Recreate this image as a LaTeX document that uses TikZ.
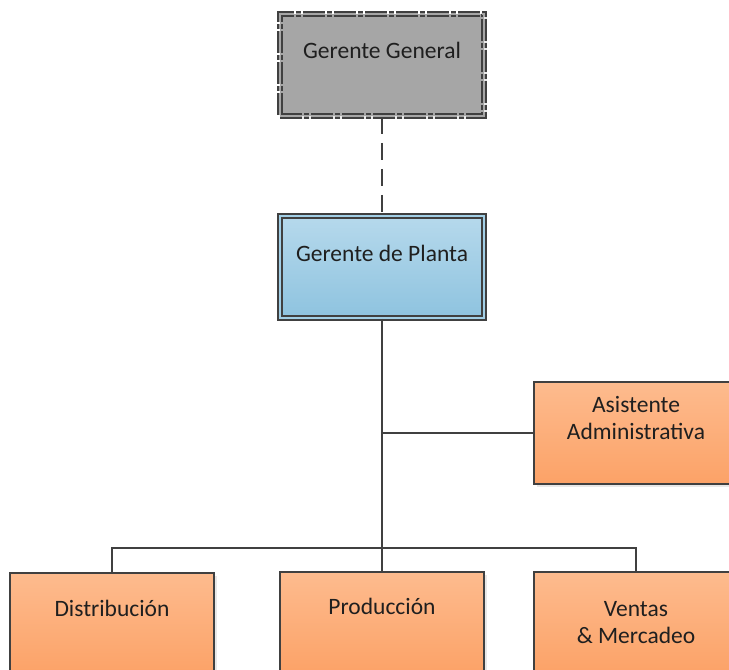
\documentclass[tikz,border=0pt]{standalone}
\usepackage{fontspec}
\setmainfont{Carlito}
\usetikzlibrary{shadows}

\definecolor{grisfondo}{HTML}{A6A6A6}
\definecolor{grisborde}{HTML}{404040}
\definecolor{azularriba}{HTML}{B6D9EC}
\definecolor{azulmedio}{HTML}{A2CFE6}
\definecolor{azulabajo}{HTML}{8EC3DF}
\definecolor{naranjaarriba}{HTML}{FDBB8E}
\definecolor{naranjaabajo}{HTML}{FCA267}
\definecolor{textoosc}{HTML}{1F1F1F}

\begin{document}
\begin{tikzpicture}[x=1pt, y=-1pt,
    puesto/.style={rectangle, minimum width=204pt, minimum height=102pt, inner sep=0pt,
      drop shadow={shadow xshift=3pt, shadow yshift=-3pt, fill=black!15, opacity=.6}},
    jefe/.style={puesto, draw=grisborde, line width=1.6pt, double=#1, double distance=2.6pt},
    area/.style={puesto, draw=grisborde, line width=1.7pt,
      top color=naranjaarriba, bottom color=naranjaabajo},
    etiqueta/.style={font=\fontsize{23.5}{27}\selectfont, text=textoosc, align=center,
      anchor=north, inner sep=0pt, execute at begin node=\strut},
    linea/.style={draw=grisborde, line width=1.7pt}]
    \clip (0,0) rectangle (729,670);

    % Direccion
    \node[jefe=grisfondo, fill=grisfondo, dash pattern=on 22pt off 2pt on 5pt off 2pt,
          label={[etiqueta, yshift=-26pt]north:Gerente General}] (gg) at (382,65) {};
    \node[jefe=azulmedio, top color=azularriba, bottom color=azulabajo,
          label={[etiqueta, yshift=-27pt]north:Gerente de Planta}] (gp) at (382,267) {};

    % Staff
    \node[area, label={[etiqueta, yshift=-15pt]north:Asistente\\Administrativa}] (asis) at (636,433) {};

    % Areas
    \node[area, label={[etiqueta, yshift=-25pt]north:Distribución}] (dist) at (112,624) {};
    \node[area, label={[etiqueta, yshift=-24pt]north:Producción}] (prod) at (382,623) {};
    \node[area, label={[etiqueta, yshift=-30pt]north:Ventas\\\& Mercadeo}] (vent) at (636,623) {};

    % Lineas
    \coordinate (bar) at (382,548);
    \draw[linea, dash pattern=on 17pt off 9pt] (gg.south) -- (gp.north);
    \draw[linea] (gp.south) -- (bar);
    \draw[linea] (gp.south |- asis.west) -- (asis.west);
    \draw[linea] (dist.north) |- (bar) -| (vent.north);
    \draw[linea] (bar) -- (prod.north);
\end{tikzpicture}
\end{document}
